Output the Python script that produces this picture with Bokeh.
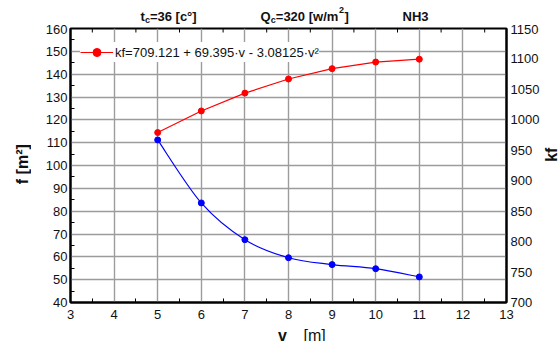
import math

from bokeh.embed import file_html
from bokeh.resources import INLINE
from bokeh.layouts import column, row
from bokeh.plotting import figure
from bokeh.models import (Range1d, LinearAxis, FixedTicker, Label, Legend,
                          LegendItem, ColumnDataSource)

# ---- data -------------------------------------------------------------
v_vals = [5, 6, 7, 8, 9, 10, 11]
f_vals = [111.2, 83.6, 67.5, 59.6, 56.6, 54.8, 51.2]            # f [m^2]
kf_vals = [979.1, 1014.6, 1043.9, 1067.1, 1084.1, 1094.9, 1099.6]  # kf

x_ticks = list(range(3, 14))
f_ticks = list(range(40, 161, 10))
kf_ticks = list(range(700, 1151, 50))

fit_label = "kf=709.121 + 69.395·v - 3.08125·v²"

# ---- page geometry ----------------------------------------------------
W, H = 559, 341
HEAD_H = 24          # strip with the run conditions
LEFT_W = 31          # strip with the left axis title
RIGHT_W = 16         # strip with the right axis title
MID_H = H - HEAD_H
MAIN_W = W - LEFT_W - RIGHT_W
# plot frame in page pixels
FL, FR, FT, FB = 70, 506, 28, 302
X0, X1, Y0, Y1 = 3, 13, 40, 160
FONT = "Liberation Sans"
INK = "#111111"


def dx(px):
    """page pixel column -> x data value of the main chart"""
    return X0 + (px - FL) * (X1 - X0) / (FR - FL)


def dy(py):
    """page pixel row -> left-axis data value of the main chart"""
    return Y0 + (FB - py) * (Y1 - Y0) / (FB - FT)


def strip(width, height, top=0):
    """Plain drawing area whose data units are pixels (y grows downward)."""
    f = figure(width=width, height=height, x_range=Range1d(0, width),
               y_range=Range1d(height, top), output_backend="svg", title=None,
               toolbar_location=None, x_axis_location=None, y_axis_location=None,
               min_border=0, outline_line_color=None)
    f.background_fill_color = "white"
    f.border_fill_color = "white"
    f.grid.visible = False
    return f


def label(text, x, y, size, bold=True, angle=0.0, align="left", baseline="alphabetic"):
    return Label(x=x, y=y, text=text, angle=angle, text_font=FONT,
                 text_font_size=f"{size}px",
                 text_font_style="bold" if bold else "normal",
                 text_align=align, text_baseline=baseline, text_color=INK)


def smooth_segments(xs, ys):
    """Catmull-Rom curve through the points, as cubic Bezier segments."""
    n = len(xs)
    seg = dict(x0=[], y0=[], x1=[], y1=[], cx0=[], cy0=[], cx1=[], cy1=[])
    for i in range(n - 1):
        a = max(i - 1, 0)
        b = min(i + 2, n - 1)
        seg["x0"].append(xs[i]); seg["y0"].append(ys[i])
        seg["x1"].append(xs[i + 1]); seg["y1"].append(ys[i + 1])
        seg["cx0"].append(xs[i] + (xs[i + 1] - xs[a]) / 6)
        seg["cy0"].append(ys[i] + (ys[i + 1] - ys[a]) / 6)
        seg["cx1"].append(xs[i + 1] - (xs[b] - xs[i]) / 6)
        seg["cy1"].append(ys[i + 1] - (ys[b] - ys[i]) / 6)
    return ColumnDataSource(seg)


# ---- main chart ---------------------------------------------------------
p = figure(width=MAIN_W, height=MID_H, x_range=Range1d(X0, X1), y_range=Range1d(Y0, Y1),
           output_backend="svg", toolbar_location=None, title=None,
           min_border_left=FL - LEFT_W, min_border_right=LEFT_W + MAIN_W - FR,
           min_border_top=FT - HEAD_H, min_border_bottom=H - FB,
           x_axis_location=None, y_axis_location=None)
p.extra_y_ranges = {"kf": Range1d(700, 1150)}
p.background_fill_color = "white"
p.border_fill_color = "white"
p.outline_line_color = "black"
p.outline_line_width = 2

minor_x = [t + 0.5 for t in x_ticks[:-1]]
x_ticker = FixedTicker(ticks=x_ticks, minor_ticks=minor_x)
f_ticker = FixedTicker(ticks=f_ticks, minor_ticks=[t + 5 for t in f_ticks[:-1]])
kf_ticker = FixedTicker(ticks=kf_ticks)


def style_axis(ax, standoff):
    ax.axis_line_color = "black"
    ax.axis_line_width = 2
    ax.major_tick_in = 0
    ax.major_tick_out = 0
    ax.minor_tick_in = 4
    ax.minor_tick_out = 0
    ax.minor_tick_line_color = "black"
    ax.major_label_text_font = FONT
    ax.major_label_text_font_size = "13px"
    ax.major_label_text_color = INK
    ax.major_label_standoff = standoff


bottom_ax = LinearAxis(ticker=x_ticker)
style_axis(bottom_ax, 7)
p.add_layout(bottom_ax, "below")

left_ax = LinearAxis(ticker=f_ticker)
style_axis(left_ax, 3)
p.add_layout(left_ax, "left")

right_ax = LinearAxis(ticker=kf_ticker, y_range_name="kf")
style_axis(right_ax, 4)
right_ax.minor_tick_in = 0
p.add_layout(right_ax, "right")

p.xgrid.ticker = x_ticker
p.ygrid.ticker = f_ticker
for g in (p.xgrid, p.ygrid):
    g.grid_line_color = "#9c9c9c"
    g.grid_line_width = 1.4

# short inward ticks hanging from the top edge of the frame
tick_len = 4 * (Y1 - Y0) / (FB - FT)
p.segment(x0=minor_x, y0=[Y1] * len(minor_x), x1=minor_x,
          y1=[Y1 - tick_len] * len(minor_x), line_color="black", line_width=1)

# f(v): smooth blue curve with markers
p.bezier(x0="x0", y0="y0", x1="x1", y1="y1", cx0="cx0", cy0="cy0",
         cx1="cx1", cy1="cy1", source=smooth_segments(v_vals, f_vals),
         line_color="#0000ff", line_width=1.2)
p.scatter(v_vals, f_vals, size=6, color="#0000ff")

# kf(v): red line with markers on the right-hand scale
kf_line = p.line(v_vals, kf_vals, line_color="#ff0000", line_width=1.2, y_range_name="kf")
kf_dots = p.scatter(v_vals, kf_vals, size=6, color="#ff0000", y_range_name="kf")

legend = Legend(items=[LegendItem(label=fit_label, renderers=[kf_line, kf_dots])],
                location=(10, 240), margin=0, padding=1, glyph_width=33,
                glyph_height=20, label_height=20, label_standoff=2,
                label_text_font=FONT, label_text_font_size="13px",
                label_text_color=INK,
                background_fill_color="white", background_fill_alpha=1.0,
                border_line_color=None)
p.add_layout(legend)

# x-axis title: kept in side panels so it is not clipped to the plot frame
p.add_layout(label("v", dx(282), dy(335), 16, align="center"), "left")
p.add_layout(label("[m]", dx(303), dy(335), 16, bold=False), "below")

# ---- surrounding titles ---------------------------------------------------
head = strip(W, HEAD_H, top=4)
for text, x, y, size in [("t", 140, 17.5, 13), ("c", 144.4, 20.5, 9),
                         ("=36 [c°]", 149.4, 17.5, 13),
                         ("Q", 260, 17.5, 13), ("c", 270.3, 20.5, 9),
                         ("=320 [w/m", 275.3, 17.5, 13), ("2", 338.5, 12, 9),
                         ("]", 344, 17.5, 13), ("NH3", 402, 17.5, 13)]:
    head.add_layout(label(text, x, y, size))

left_strip = strip(LEFT_W, MID_H)
left_strip.add_layout(label("f [m²]", 22, 181 - HEAD_H, 16, angle=math.pi / 2,
                            align="center", baseline="middle"))

right_strip = strip(RIGHT_W, MID_H)
right_strip.add_layout(label("kf", 8, 170 - HEAD_H, 16, angle=math.pi / 2,
                             align="center", baseline="middle"))

page = column(head, row(left_strip, p, right_strip))
open("out.html", "w").write(file_html(page, INLINE))
